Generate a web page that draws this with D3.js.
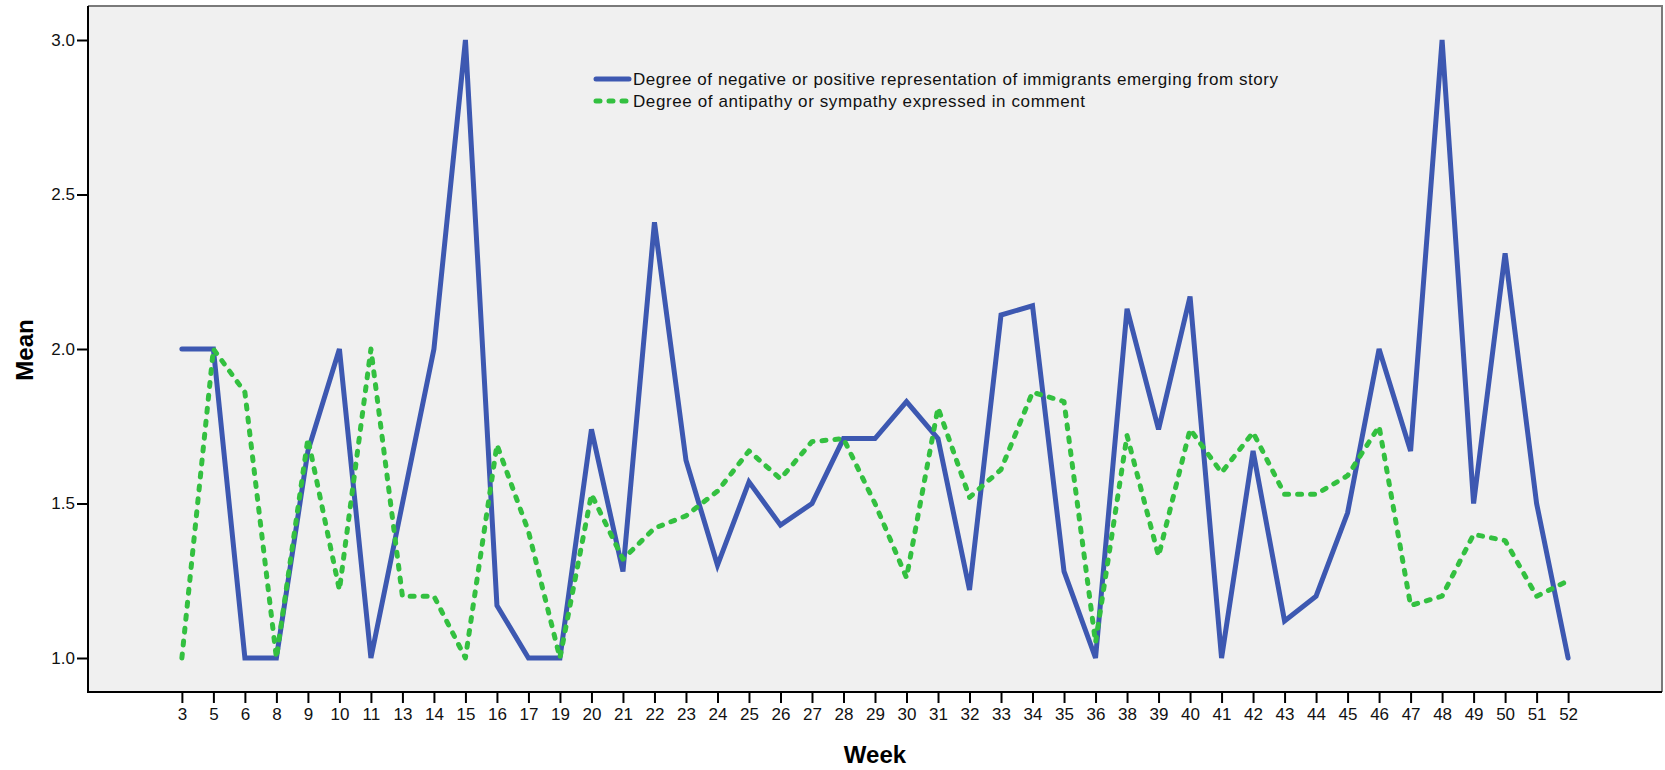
<!DOCTYPE html>
<html>
<head>
<meta charset="utf-8">
<script src="https://cdn.jsdelivr.net/npm/d3@7"></script>
<style>
  html, body { margin: 0; padding: 0; background: #ffffff; }
  svg { display: block; font-family: Arial, "Liberation Sans", sans-serif; }
</style>
</head>
<body>
<svg id="chart" width="1665" height="770"></svg>
<script>
// Weeks present in the data set (the x axis is categorical)
const weeks = [3, 5, 6, 8, 9, 10, 11, 13, 14, 15, 16, 17, 19, 20, 21, 22, 23, 24, 25, 26, 27, 28, 29, 30, 31, 32, 33, 34, 35, 36, 38, 39, 40, 41, 42, 43, 44, 45, 46, 47, 48, 49, 50, 51, 52];

// Mean degree of negative/positive representation of immigrants in the story
const storyMeans = [2.0, 2.0, 1.0, 1.0, 1.67, 2.0, 1.0, 1.5, 2.0, 3.0, 1.17, 1.0, 1.0, 1.74, 1.28, 2.41, 1.64, 1.3, 1.57, 1.43, 1.5, 1.71, 1.71, 1.83, 1.71, 1.22, 2.11, 2.14, 1.28, 1.0, 2.13, 1.74, 2.17, 1.0, 1.67, 1.12, 1.2, 1.47, 2.0, 1.67, 3.0, 1.5, 2.31, 1.5, 1.0];

// Mean degree of antipathy/sympathy expressed in comments
const commentMeans = [1.0, 2.0, 1.86, 1.0, 1.71, 1.22, 2.0, 1.2, 1.2, 1.0, 1.69, 1.41, 1.0, 1.53, 1.32, 1.42, 1.46, 1.54, 1.67, 1.58, 1.7, 1.71, 1.5, 1.26, 1.81, 1.52, 1.61, 1.86, 1.83, 1.05, 1.72, 1.33, 1.74, 1.6, 1.73, 1.53, 1.53, 1.59, 1.75, 1.17, 1.2, 1.4, 1.38, 1.2, 1.25];

const yTicks = [1.0, 1.5, 2.0, 2.5, 3.0];

const seriesNames = [
  "Degree of negative or positive representation of immigrants emerging from story",
  "Degree of antipathy or sympathy expressed in comment"
];

const blue = "#3d58b1";
const green = "#33c040";

const svg = d3.select("#chart");
const plot = { left: 88, top: 6, right: 1662, bottom: 692 };

// Plot background
svg.append("rect")
  .attr("x", plot.left).attr("y", plot.top)
  .attr("width", plot.right - plot.left).attr("height", plot.bottom - plot.top)
  .attr("fill", "#f0f0f0");

// Grey frame on top and right
svg.append("path")
  .attr("d", `M${plot.left},${plot.top}H${plot.right}V${plot.bottom}`)
  .attr("fill", "none").attr("stroke", "#7a7a7a").attr("stroke-width", 2);

const x = d3.scalePoint().domain(weeks).range([plot.left, plot.right]).padding(2.98);
const y = d3.scaleLinear().domain([1.0, 3.0]).range([658, 40]);

// Axes
const xAxis = svg.append("g")
  .attr("transform", `translate(0,${plot.bottom})`)
  .call(d3.axisBottom(x).tickSize(11).tickSizeOuter(0).tickPadding(5));
const yAxis = svg.append("g")
  .attr("transform", `translate(${plot.left},0)`)
  .call(d3.axisLeft(y).tickValues(yTicks).tickFormat(d3.format(".1f")).tickSize(11).tickPadding(2));

[xAxis, yAxis].forEach(g => {
  g.select(".domain").remove();
  g.selectAll("line").attr("stroke", "#000").attr("stroke-width", 2);
  g.selectAll("text").attr("font-size", 17).attr("fill", "#111")
    .attr("font-family", "Arial, 'Liberation Sans', sans-serif");
});

// Axis lines (left and bottom)
svg.append("path")
  .attr("d", `M${plot.left},${plot.top}V${plot.bottom}H${plot.right}`)
  .attr("fill", "none").attr("stroke", "#000").attr("stroke-width", 2);

// Axis titles
svg.append("text")
  .attr("x", (plot.left + plot.right) / 2).attr("y", 763)
  .attr("text-anchor", "middle")
  .attr("font-size", 24).attr("font-weight", "bold").attr("fill", "#000")
  .text("Week");

svg.append("text")
  .attr("transform", "translate(33,350) rotate(-90)")
  .attr("text-anchor", "middle")
  .attr("font-size", 24).attr("font-weight", "bold").attr("fill", "#000")
  .text("Mean");

const line = d3.line().x(d => x(d[0])).y(d => y(d[1]));

// Series lines
svg.append("path")
  .datum(weeks.map((w, i) => [w, storyMeans[i]]))
  .attr("d", line)
  .attr("fill", "none").attr("stroke", blue).attr("stroke-width", 5)
  .attr("stroke-linejoin", "miter").attr("stroke-linecap", "round");

svg.append("path")
  .datum(weeks.map((w, i) => [w, commentMeans[i]]))
  .attr("d", line)
  .attr("fill", "none").attr("stroke", green).attr("stroke-width", 5)
  .attr("stroke-dasharray", "4,9")
  .attr("stroke-linejoin", "round").attr("stroke-linecap", "round");

// Legend
const legend = svg.append("g").attr("transform", "translate(596,0)");
const legendRows = [
  { name: seriesNames[0], color: blue, dash: null, y: 79, width: 645 },
  { name: seriesNames[1], color: green, dash: "4,9", y: 101, width: 452 }
];
legendRows.forEach(r => {
  legend.append("line")
    .attr("x1", 0).attr("x2", 33).attr("y1", r.y).attr("y2", r.y)
    .attr("stroke", r.color).attr("stroke-width", 5).attr("stroke-linecap", "round")
    .attr("stroke-dasharray", r.dash);
  legend.append("text")
    .attr("x", 37).attr("y", r.y).attr("dy", "0.35em")
    .attr("font-size", 17).attr("fill", "#111")
    .attr("textLength", r.width).attr("lengthAdjust", "spacing")
    .text(r.name);
});
</script>
</body>
</html>
